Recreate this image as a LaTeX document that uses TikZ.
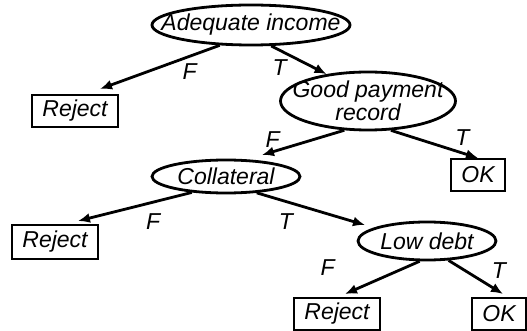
\documentclass[tikz,border=0pt]{standalone}
\usepackage{fontspec}
\setmainfont{Liberation Sans}
\usetikzlibrary{shapes.geometric, arrows.meta, positioning}
\tikzset{
x=1pt, y=-1pt, % one unit per pixel, y pointing down
>={Latex[length=12pt,width=10pt]}, % filled arrow heads
every node/.style={font=\fontsize{23}{21}\selectfont\itshape},
test/.style={ellipse, draw, line width=2.8pt, inner xsep=-40pt, inner ysep=-10pt, align=center}, % decision nodes
leaf/.style={rectangle, draw, line width=2pt, inner xsep=10pt, inner ysep=0pt, minimum height=32pt}, % outcome boxes
branch/.style={->, line width=2.8pt}, % tree edges
answer/.style={inner sep=0pt}, % F / T labels
}
\begin{document}
\begin{tikzpicture}
        \useasboundingbox (0,0) rectangle (527,331);

        \node[test, minimum width=198pt, minimum height=40pt] (income) at (251,25) {Adequate income};
        \node[leaf] (reject1) at ([shift={(-176,86)}]income) {Reject};
        \node[test, minimum width=175pt, minimum height=58pt] (payment) at ([shift={(117,76)}]income) {Good payment\\record};
        \node[leaf] (ok1) at ([shift={(110,74)}]payment) {OK};
        \node[test, minimum width=148pt, minimum height=33pt] (collateral) at ([shift={(-142,75.5)}]payment) {Collateral};
        \node[leaf, minimum height=34pt] (reject2) at ([shift={(-171,65.5)}]collateral) {Reject};
        \node[test, minimum width=138pt, minimum height=38pt] (debt) at ([shift={(201,64.5)}]collateral) {Low debt};
        \node[leaf] (reject3) at ([shift={(-90,73)}]debt) {Reject};
        \node[leaf] (ok3) at ([shift={(72,73)}]debt) {OK};

        \draw[branch] (income.213) -- node[answer, pos=.25, yshift=-15pt] {F} ([shift={(25,-5)}]reject1.north);
        \draw[branch] (income.314) -- node[answer, pos=.15, yshift=-17pt] {T} (payment.147);
        \draw[branch] (payment.231) -- node[answer, pos=.87, yshift=12.5pt] {F} ([shift={(36,-21.5)}]collateral.center);
        \draw[branch] (payment.308) -- node[answer, pos=.82, yshift=15pt] {T} (ok1.north);
        \draw[branch] (collateral.205) -- node[answer, pos=.34, yshift=-19pt] {F} ([shift={(23,-3)}]reject2.north);
        \draw[branch] (collateral.332) -- node[answer, pos=.27, yshift=-20pt] {T} ([shift={(-62,-16)}]debt.center);
        \draw[branch] (debt.250) -- node[answer, pos=.2, xshift=-77pt] {F} ([shift={(8,-3)}]reject3.north);
        \draw[branch] (debt.318) -- node[answer, pos=.3, xshift=34pt] {T} ([shift={(4,-3)}]ok3.north);
    \end{tikzpicture}
\end{document}
